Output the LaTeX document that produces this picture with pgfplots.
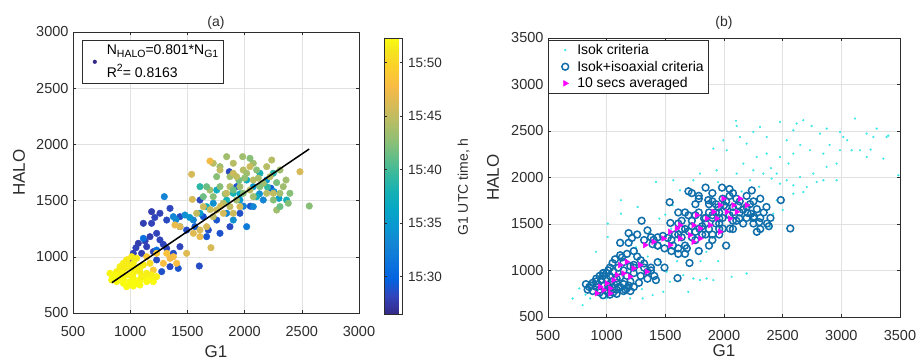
\documentclass[border=0pt]{standalone}
\usepackage{pgfplots}
\pgfplotsset{compat=1.18}
\usepackage{pgfplotstable}
\usepackage{fontspec}
\setmainfont{Liberation Sans}
\definecolor{axgray}{RGB}{45,45,45}
\definecolor{gridgray}{RGB}{225,225,225}
\definecolor{mblue}{RGB}{16,110,170}
\definecolor{pdark}{RGB}{53,42,135}
\definecolor{cyanpt}{RGB}{60,232,232}
\definecolor{magpt}{RGB}{255,0,255}
\newcommand\lsub[1]{\raisebox{-3pt}{\fontsize{10.5}{12}\selectfont #1}}
\newcommand\lsup[1]{\raisebox{5.5pt}{\fontsize{10.5}{12}\selectfont #1}}

\pgfplotsset{
  colormap={parula}{rgb255(0pt)=(53,42,135) rgb255(4pt)=(50,67,186) rgb255(8pt)=(3,99,225) rgb255(12pt)=(13,117,220) rgb255(16pt)=(20,133,212) rgb255(20pt)=(9,152,209) rgb255(24pt)=(6,167,198) rgb255(28pt)=(21,177,180) rgb255(32pt)=(56,185,158) rgb255(36pt)=(101,190,134) rgb255(40pt)=(146,191,115) rgb255(44pt)=(183,189,100) rgb255(48pt)=(217,186,86) rgb255(52pt)=(248,187,68) rgb255(56pt)=(252,206,46) rgb255(60pt)=(245,228,29) rgb255(63pt)=(249,251,14)},
  myaxis/.style={
    scale only axis,
    clip marker paths=true,
    axis background/.style={fill=white},
    axis line style={axgray, line width=0.5pt},
    tick style={axgray, line width=0.5pt},
    tick align=inside,
    major tick length=3pt,
    grid=major,
    major grid style={gridgray, line width=0.5pt},
    ticklabel style={font=\fontsize{14.5}{16}\selectfont, text=axgray},
    xticklabel style={yshift=-10pt},
    yticklabel style={xshift=-1pt},
    /pgf/number format/assume math mode=true,
    /pgf/number format/1000 sep={},
    label style={font=\fontsize{17}{20}\selectfont, text=axgray},
    title style={font=\fontsize{14}{16}\selectfont, text=axgray},
  }
}

\pgfplotstableread{
x y t
1187 1402 27.8
1260 1387 28.0
1348 1431 28.3
1115 1298 27.9
1187 1298 28.1
1319 1327 28.4
1435 1357 28.6
1071 1120 27.8
1144 1090 28.0
1260 1150 28.2
1319 1075 28.3
1377 1031 28.7
1435 1090 28.2
1231 972 28.5
1275 868 28.8
1348 912 28.4
1420 897 28.9
1604 918 28.6
1027 1031 28.1
998 972 28.2
1100 1031 27.8
1202 1046 28.0
1610 1505 28.3
1639 1357 29.0
1683 1238 28.7
1785 1209 28.9
1872 1268 28.5
1959 1387 28.8
1756 1327 29.0
1866 1757 28.4
1930 1624 28.9
1668 1179 29.1
1493 1238 28.6
1566 1268 29.2
1231 1209 28.1
1173 1179 27.9
1130 1140 28.0
1290 1110 28.3
1215 1350 28.2
1050 1080 28.1
2230 1610 29.4
2050 1450 29.1
1298 1535 33
1377 1357 33
1479 1372 34
1552 1327 33
1435 1268 32
1610 1387 35
1726 1476 34
1901 1327 34
1959 1505 35
2076 1446 33
2163 1505 33
2256 1580 34
2193 1683 35
2076 1624 35
1843 1387 33
2018 1268 32
1231 1060 31
1115 1164 30.8
1400 1330 33.5
1520 1350 34.5
2130 1560 34
2300 1520 35.5
1990 1450 32.5
1756 1594 37
1901 1565 38
2018 1683 37
2134 1743 38
2251 1743 39
1843 1505 38
1668 1446 37
1610 1624 39
2367 1505 38
2105 1535 37
1960 1560 36.5
2200 1620 39.5
1983 1891 43.5
2237 1861 44.5
2362 1683 43.5
2382 1476 42.5
2565 1452 42.5
2309 1772 43.5
2193 1802 44.5
2076 1832 43.5
1901 1832 44.5
1785 1802 43.5
1756 1713 42.5
1872 1713 43.5
1988 1772 44.5
2105 1772 42.5
1901 1743 45.5
2018 1743 43.5
2076 1683 44.5
2163 1654 43.5
2251 1505 42.5
2309 1565 43.5
2193 1565 44.5
2134 1624 42.5
1959 1624 43.5
1872 1624 44.5
1785 1624 42.5
1697 1594 43.5
1726 1535 42.5
1814 1476 44.5
1930 1505 43.5
2047 1594 44.5
1988 1565 42.5
2338 1624 43.5
2396 1565 42.5
2280 1416 43.5
2076 1535 43.5
2222 1713 44.5
1843 1891 43.5
2047 1876 42.5
1726 1832 44.5
1668 1624 41.5
1639 1535 41.5
1901 1594 41.5
2309 1446 41.5
2000 1700 43
2120 1700 44
2280 1660 42
1830 1560 43
1950 1680 42
1543 1511 46
1537 1734 46
1706 1081 46
2484 1757 46
1493 1031 46.5
1610 1238 46
1726 1357 45
1756 1416 45.5
1814 1387 46
1872 1446 45
1901 1387 45.5
1959 1446 46
1843 1565 45
1930 1713 45
2047 1802 45.5
1785 1772 45
2251 1565 45
1610 1179 47
1552 1209 46.5
1668 1268 46
1435 1268 46.5
1391 1283 47
1639 1446 45.5
1581 1387 45
1697 1852 47.5
1700 1420 45.2
1790 1450 45.8
1377 1001 48
1319 1031 48.5
1231 1031 49
1144 1001 49
972 972 48.5
1290 942 48
1348 986 47.5
1173 942 50.5
1202 882 49
1406 942 48
1056 986 51.5
969 942 51.6
1085 912 51.8
911 912 51.7
1027 853 52.0
823 853 52.0
852 823 52.2
881 868 51.8
911 823 52.0
940 794 52.3
969 838 51.9
998 779 52.3
1027 808 52.1
1056 764 52.3
1085 794 52.2
1115 823 51.9
1144 779 52.3
1173 808 52.0
1202 779 52.3
969 734 52.3
1027 740 52.3
1085 749 52.3
881 779 52.2
838 794 52.3
911 882 51.6
954 897 51.5
998 912 51.6
1042 882 51.7
1085 868 51.5
1144 853 51.6
1187 838 51.7
1231 823 51.8
969 972 51.4
1013 1001 51.4
940 942 51.6
1027 942 51.7
1115 927 51.5
925 853 52.0
1013 838 51.9
1100 823 51.8
1158 794 52.2
940 764 52.3
1013 764 52.3
867 838 52.2
}\mainpts

\pgfplotstableread{
x y
2102 2610
2108 2554
2250 2490
2307 2544
2477 2598
2619 2580
2676 2616
2747 2554
2818 2472
2875 2526
2989 2490
3017 2436
3117 2634
3216 2472
3301 2526
3386 2436
3358 2203
3486 2024
3088 2293
2989 2293
2847 2257
2733 2293
2591 2257
2477 2221
2364 2257
2279 2221
2193 2364
2136 2436
2023 2293
1994 2400
1909 2311
2165 2149
2250 2078
2335 2042
2449 2042
2534 1970
2648 2006
2705 1898
2790 1952
2847 1970
2960 1970
2591 1916
2477 1934
2406 1988
2108 2042
2222 1970
1937 2078
1795 2042
1739 1970
2676 1844
2591 1826
2449 1754
2420 1611
2392 1468
1420 1952
1122 1755
1122 1611
1009 1360
1009 1504
1264 1683
1568 1970
1625 1862
1739 914
1796 897
1852 914
1909 897
2065 932
2193 968
1696 771
1392 735
710 699
795 628
767 807
852 807
1540 879
1483 771
1307 700
1511 986
1653 950
909 1201
1136 1308
1364 1415
1449 1558
1563 1701
1705 1808
2960 2149
3159 2293
3216 2221
3273 2436
2875 2114
2761 2042
2534 2400
2591 2508
2364 2436
820 740
860 700
900 760
950 720
1000 700
1050 760
1100 720
880 850
1200 700
1300 800
1450 1100
1500 1600
1850 1200
2300 1900
2400 2100
2550 2150
2650 2350
2900 2350
3050 2400
3250 2300
3400 2450
2150 1850
1950 1950
2500 1650
1800 1100
1600 1100
1250 1250
1350 1150
1550 1450
1950 1100
}\isokpts

\pgfplotstableread{
x y
943 826
1000 862
1057 898
972 790
1029 808
1085 951
1142 969
1199 933
1114 1058
1227 1022
1284 1058
1341 987
1170 1094
915 754
1029 754
1327 1273
1398 1308
1483 1344
1540 1416
1597 1452
1625 1344
1710 1380
1739 1487
1796 1452
1767 1595
1852 1559
1909 1631
1881 1487
1966 1702
1937 1559
1994 1773
2023 1631
2080 1702
2051 1559
2108 1631
2136 1773
2193 1702
1796 1344
1966 1416
1625 1487
1739 1308
1540 1273
}\avgpts

\begin{document}
\begin{tikzpicture}
\useasboundingbox (0,0) rectangle (919pt,363pt);

% ---------------- panel (a)
\begin{axis}[myaxis,
  at={(73pt,50pt)}, anchor=south west,
  width=286pt, height=281pt,
  xmin=500, xmax=3000, ymin=500, ymax=3000,
  xtick={500,1000,...,3000}, ytick={500,1000,...,3000},
  title={(a)}, title style={yshift=-7pt},
  xlabel={G1}, ylabel={HALO},
  xlabel style={at={(axis description cs:0.5,-0.139)}, anchor=center},
  ylabel style={at={(axis description cs:-0.189,0.5)}, anchor=center},
  point meta min=26.5, point meta max=52.3,
  colormap name=parula,
  colorbar,
  colorbar style={
    at={(parent axis.north east)}, anchor=north west, xshift=17pt, yshift=-6pt,
    scale only axis, width=18pt, height=276pt,
    axis line style={axgray, line width=0.5pt},
    tick style={axgray, line width=0.5pt},
    tick align=inside, major tick length=2.5pt,
    ytick={30,35,40,45,50},
    yticklabels={15:30,15:35,15:40,15:45,15:50},
    yticklabel style={font=\fontsize{13.5}{15}\selectfont, text=axgray, xshift=2pt},
    ylabel={G1 UTC time, h},
    ylabel style={font=\fontsize{14}{16}\selectfont, text=axgray, at={(axis description cs:4.4,0.46)}, anchor=center},
  },
  legend style={at={(0.03,0.97)}, anchor=north west, draw=axgray, line width=0.5pt, fill=white,
    font=\fontsize{14}{17}\selectfont, text=black, inner xsep=3pt, inner ysep=2pt},
  legend cell align=left,
]
\addplot[scatter, only marks, mark=*, mark size=3.3pt, point meta=explicit,
  scatter/use mapped color={draw=mapped color, fill=mapped color}, forget plot]
  table[x=x, y=y, meta=t] {\mainpts};
\addplot[black, line width=1.5pt, forget plot] coordinates {(840,770) (2565,1959)};
\addlegendimage{legend image code/.code={\path[draw=none] (0pt,0pt) -- (20pt,0pt); \fill[pdark, draw=none] (10pt,0pt) circle (2.1pt);}}
\addlegendentry[align=left]{N\lsub{HALO}=0.801*N\lsub{G1}\\[6pt]R\lsup{2}= 0.8163}
\end{axis}

% ---------------- panel (b)
\begin{axis}[myaxis,
  at={(548pt,46pt)}, anchor=south west,
  width=352pt, height=279pt,
  xmin=500, xmax=3500, ymin=500, ymax=3500,
  xtick={500,1000,...,3500}, ytick={500,1000,...,3500},
  title={(b)}, title style={yshift=-1pt},
  xlabel={G1}, ylabel={HALO},
  xlabel style={at={(axis description cs:0.5,-0.122)}, anchor=center},
  ylabel style={at={(axis description cs:-0.156,0.5)}, anchor=center},
  legend style={at={(0,1)}, anchor=north west, yshift=-2pt, draw=axgray, line width=0.5pt, fill=white,
    font=\fontsize{14}{17}\selectfont, text=black, inner xsep=3pt, inner ysep=2pt, row sep=1pt},
  legend cell align=left,
  legend image code/.code={\path[draw=none] (0pt,0pt) -- (24pt,0pt);
    \draw[#1] plot coordinates {(14pt,0pt)};},
]
\addplot[only marks, mark=*, mark size=0.9pt, color=cyanpt] table[x=x, y=y] {\isokpts};
\addlegendentry{Isok criteria}
\addplot[only marks, mark=o, mark size=3.4pt, line width=1.5pt, color=mblue] table[x=x, y=y] {\mainpts};
\addlegendentry{Isok+isoaxial criteria}
\addplot[only marks, mark=triangle*, mark size=3.2pt, color=magpt, mark options={rotate=-90}] table[x=x, y=y] {\avgpts};
\addlegendentry{10 secs averaged}
\end{axis}
\end{tikzpicture}
\end{document}
